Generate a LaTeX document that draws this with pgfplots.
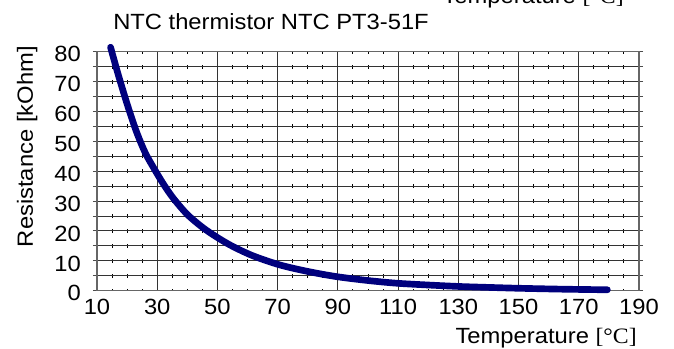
\documentclass[border=0pt]{standalone}
\usepackage{fontspec}
\setmainfont{Liberation Sans}[FakeStretch=1.08]
\newfontfamily\seriffont{Liberation Serif}[FakeStretch=1.08]
\usepackage{pgfplots}
\pgfplotsset{compat=1.18}
\definecolor{curve}{RGB}{0,0,125}
\newcommand\lab{\fontsize{16.5}{19.8}\selectfont}

\begin{document}
\begin{tikzpicture}
\useasboundingbox (0,0) rectangle (505.5pt,261.75pt);
\begin{axis}[
  at={(72.75pt,43.73pt)}, anchor=south west,
  scale only axis, width=406.5pt, height=179.25pt,
  xmin=10, xmax=190, ymin=0, ymax=80,
  xtick={10,30,...,190}, minor x tick num=3,
  ytick={0,10,...,80}, minor ytick={5,15,...,75},
  tick align=outside, major tick length=3pt, minor tick length=3pt,
  xtick style={draw=none},
  ytick style={black!70, line width=0.75pt},
  xmajorgrids, xminorgrids, ymajorgrids, yminorgrids,
  major grid style={black!80, line width=0.75pt},
  minor y grid style={black!80, line width=0.75pt},
  minor x grid style={black, line width=0.75pt,
    dash pattern=on 3pt off 8.203pt, dash phase=1.5pt},
  axis line style={black!60, line width=1.1pt},
  tick label style={font=\lab, /pgf/number format/assume math mode=true},
  yticklabel style={anchor=east, inner sep=0pt, yshift=-2pt},
  xticklabel style={anchor=north, inner sep=0pt},
  yticklabel shift=9pt,
  xticklabel shift=3.2pt,
  clip=false,
]
% resistance curve of the thermistor
\addplot[curve, line width=5pt, line cap=round, line join=round, smooth, tension=0.5]
  coordinates {
  (14.5,81.5) (17,72.5) (20,62.5) (23,53.5) (26,46.2) (29,40.8)
  (32,35.8) (35.3,31) (40,25.5) (45.3,21) (50.3,17.6) (55.3,14.7)
  (62,11.6) (70.8,8.6) (80.2,6.4) (89.6,4.7) (100,3.4) (109.5,2.5)
  (120,1.9) (130.6,1.4) (140,1.1) (150.5,0.8) (165,0.5) (179.5,0.3)
  };
% titles and axis labels
\node[anchor=base west, inner sep=0pt, font=\lab]
  at (axis description cs:0.0295,1.0908) {NTC thermistor NTC PT3-51F};
\node[anchor=base east, inner sep=0pt, font=\lab]
  at (axis description cs:0.9723,1.1996) {Temperature {\seriffont[°C]}};
\node[anchor=base east, inner sep=0pt, font=\lab, xshift=-1.5pt, yshift=-39.5pt]
  at (axis description cs:1,0) {Temperature {\seriffont[°C]}};
\node[anchor=base, inner sep=0pt, font=\lab, rotate=90]
  at ([xshift=-48pt]axis description cs:0,0.6025) {Resistance [kOhm]};
\end{axis}
\end{tikzpicture}
\end{document}
